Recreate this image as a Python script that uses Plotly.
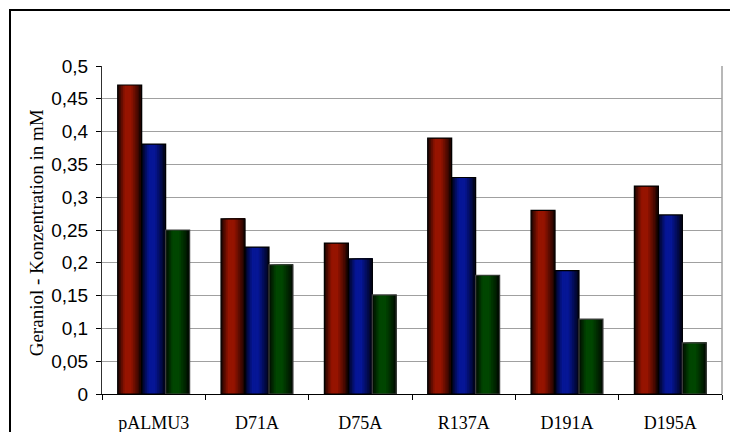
import plotly.graph_objects as go

# Geraniol concentration per construct, three measurement series
categories = ["pALMU3", "D71A", "D75A", "R137A", "D191A", "D195A"]
series_red = [0.471, 0.267, 0.230, 0.390, 0.280, 0.317]
series_blue = [0.381, 0.224, 0.206, 0.330, 0.188, 0.273]
series_green = [0.250, 0.197, 0.151, 0.181, 0.114, 0.078]
y_ticks = [round(i * 0.05, 2) for i in range(11)]

W, H = 730, 432
ML, MR, MT, MB = 102, 8, 66, 38
PW = W - ML - MR

BAR_W = 0.232
N_STRIPS = 14
SERIF = "Liberation Serif"
SANS = "Liberation Sans"


def shade(t):
    """Brightness across a bar: dark edges, bright left-of-centre band."""
    if t < 0.3:
        return 0.15 + 0.85 * (t / 0.3)
    if t < 0.55:
        return 1.0
    return 1.0 - 0.85 * (t - 0.55) / 0.45


def col(base, f):
    r, g, b = base
    return f"rgb({int(r * f)},{int(g * f)},{int(b * f)})"


fig = go.Figure()

series = [
    (series_red, (150, 20, 0), -0.348, "#000000"),
    (series_blue, (6, 22, 150), -0.116, "#000000"),
    (series_green, (0, 70, 0), 0.116, "#404040"),
]

for values, base, start, edge in series:
    sw = BAR_W / N_STRIPS
    # each strip runs from its own left edge to the bar's right edge,
    # later strips paint over earlier ones, giving a seamless gradient
    for k in range(N_STRIPS):
        t = (k + 0.5) / N_STRIPS
        fig.add_trace(go.Bar(
            x=categories, y=values,
            width=BAR_W - k * sw, offset=start + k * sw,
            marker=dict(color=col(base, shade(t)), line=dict(width=0)),
            showlegend=False, hoverinfo="skip",
        ))
    fig.add_trace(go.Bar(
        x=categories, y=values,
        width=BAR_W, offset=start,
        marker=dict(color="rgba(0,0,0,0)", line=dict(color=edge, width=1.2)),
        showlegend=False,
    ))

fig.update_layout(
    width=W, height=H,
    margin=dict(l=ML, r=MR, t=MT, b=MB, autoexpand=False),
    paper_bgcolor="white", plot_bgcolor="white",
    barmode="overlay",
    separators=",.",
    xaxis=dict(
        type="category",
        automargin=False,
        tickson="boundaries",
        ticks="outside", ticklen=5, tickcolor="#000000",
        showline=True, linecolor="#000000", linewidth=1,
        showgrid=False,
        tickfont=dict(family=SERIF, size=18, color="#000000"),
        ticklabelstandoff=12,
    ),
    yaxis=dict(
        range=[0, 0.5],
        automargin=False,
        tickvals=y_ticks,
        ticks="outside", ticklen=5, tickcolor="#000000",
        showline=True, linecolor="#303030", linewidth=1,
        showgrid=True, gridcolor="#a0a0a0", gridwidth=1,
        zeroline=False,
        tickfont=dict(family=SANS, size=19, color="#000000"),
        ticklabelstandoff=4,
    ),
    annotations=[dict(
        text="Geraniol - Konzentration in mM",
        xref="paper", yref="paper",
        x=(36 - ML) / PW, y=0.49,
        xanchor="center", yanchor="middle",
        textangle=-90, showarrow=False,
        font=dict(family=SERIF, size=19, color="#000000"),
    )],
    shapes=[
        # right edge of the plotting area
        dict(type="line", xref="paper", yref="paper", x0=1, x1=1, y0=0, y1=1,
             line=dict(color="#a0a0a0", width=1.5)),
        # outer chart frame
        dict(type="rect", xref="paper", yref="paper",
             x0=(10 - ML) / PW, x1=(W + 20 - ML) / PW,
             y0=-(H + 20 - (H - MB)) / (H - MT - MB), y1=1 + (MT - 10) / (H - MT - MB),
             line=dict(color="#000000", width=2)),
    ],
)

fig.write_html("out.html")
